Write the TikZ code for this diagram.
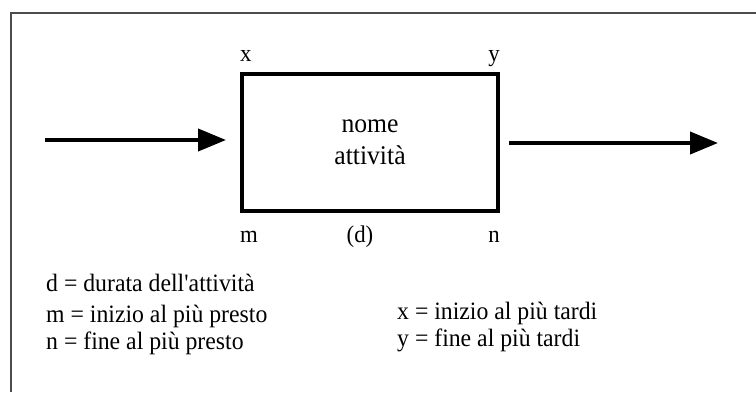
\documentclass[tikz,border=0pt]{standalone}
\usepackage{fontspec}
\setmainfont{Liberation Serif}[FakeStretch=0.95]
\usepackage{xcolor}
\usepackage{tikz}
\usetikzlibrary{arrows.meta, positioning}

\begin{document}
\begin{tikzpicture}[
  x=1pt, y=-1pt,
  node distance=9pt and 0pt,
  box/.style={draw, line width=4pt, minimum width=256pt, minimum height=137pt, inner sep=0pt},
  corner/.style={font=\fontsize{24}{26}\selectfont, inner sep=0pt, text height=1.6ex, text depth=.5ex},
  legend/.style={font=\fontsize{25}{27}\selectfont, anchor=west, inner sep=0pt},
  arrow/.style={line width=4pt, -{Triangle[length=28pt, width=22pt]}}
]
\useasboundingbox (0,0) rectangle (756,392);

% Frame
\draw[line width=1.6pt, black!70] (756,13) -- (11,13) -- (11,392);

% Nodes
\node[box, align=center, font=\fontsize{27}{32}\selectfont] (act) at (370,142.5) {nome\\attività};
\node[corner, above right=8pt and 0pt of act.north west] (lx) {x};
\node[corner, above left=8pt and 0pt of act.north east] (ly) {y};
\node[corner, below right=22pt and 0pt of act.south west] (lm) {m};
\node[corner, below=22pt of act.south, xshift=-10pt] (ld) {(d)};
\node[corner, below left=22pt and 0pt of act.south east] (ln) {n};

\coordinate (start) at (45,140);
\coordinate (stop) at (718,143);

% Legend
\node[legend] (dd) at (46,283) {d = durata dell\textquotesingle attività};
\node[legend] (mm) at (46,316) {m = inizio al più presto};
\node[legend] (nn) at (46,343) {n = fine al più presto};
\node[legend] (xx) at (397,313) {x = inizio al più tardi};
\node[legend] (yy) at (397,340) {y = fine al più tardi};

% Pointers
\draw[arrow, shorten >=14pt] (start) -- (act.west |- start);
\draw[arrow, shorten <=9pt] (act.east |- stop) -- (stop);

\end{tikzpicture}
\end{document}
